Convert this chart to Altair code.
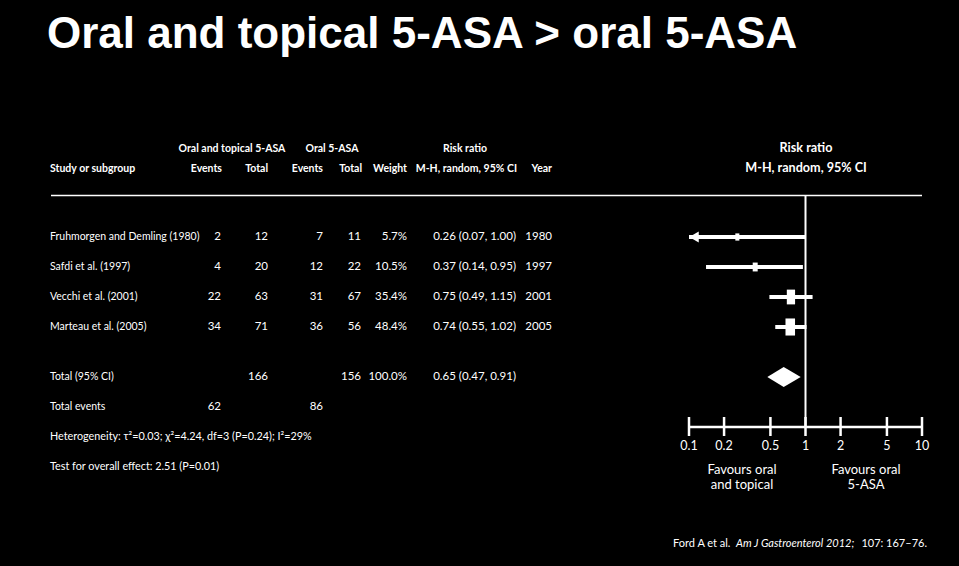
import altair as alt
import pandas as pd

# ---------------- data ----------------
studies = ["Fruhmorgen and Demling (1980)", "Safdi et al. (1997)",
           "Vecchi et al. (2001)", "Marteau et al. (2005)"]
ev_comb = [2, 4, 22, 34]
tot_comb = [12, 20, 63, 71]
ev_oral = [7, 12, 31, 36]
tot_oral = [11, 22, 67, 56]
weights = [5.7, 10.5, 35.4, 48.4]
rr = [0.26, 0.37, 0.75, 0.74]
rr_lo = [0.07, 0.14, 0.49, 0.55]
rr_hi = [1.00, 0.95, 1.15, 1.02]
years = [1980, 1997, 2001, 2005]

total_label = "Total (95% CI)"
total_n = [166, 156]
total_events = [62, 86]
total_weight = 100.0
pooled = [0.65, 0.47, 0.91]
heterogeneity = "Heterogeneity: τ²=0.03; χ²=4.24, df=3 (P=0.24); I²=29%"
overall = "Test for overall effect: 2.51 (P=0.01)"

axis_ticks = [0.1, 0.2, 0.5, 1, 2, 5, 10]
axis_tick_labels = ["0.1", "0.2", "0.5", "1", "2", "5", "10"]
favours_left = ["Favours oral", "and topical"]
favours_right = ["Favours oral", "5-ASA"]

title_text = "Oral and topical 5-ASA > oral 5-ASA"
header_top = ["Oral and topical 5-ASA", "Oral 5-ASA", "Risk ratio"]
header_bottom = ["Study or subgroup", "Events", "Total", "Events", "Total", "Weight",
                 "M-H, random, 95% CI", "Year"]
forest_header = ["Risk ratio", "M-H, random, 95% CI"]
citation = ["Ford A et al.", "Am J Gastroenterol 2012;", "107: 167–76."]

# ---------------- layout helpers ----------------
FONT = "Lato"
FS_NUM = 11.5
FS_TXT = 10.5
WHITE = "#ffffff"
GAP = 2.0 / 3.0  # blank space between the studies and the totals (in rows)

rows = []
for i, s in enumerate(studies):
    rows.append(dict(row=i, name=s, c1=str(ev_comb[i]), c2=str(tot_comb[i]),
                     c3=str(ev_oral[i]), c4=str(tot_oral[i]), w=f"{weights[i]:.1f}%",
                     rrt=f"{rr[i]:.2f} ({rr_lo[i]:.2f}, {rr_hi[i]:.2f})", yr=str(years[i])))
base = len(studies) + GAP
rows.append(dict(row=base, name=total_label, c1="", c2=str(total_n[0]), c3="", c4=str(total_n[1]),
                 w=f"{total_weight:.1f}%", rrt=f"{pooled[0]:.2f} ({pooled[1]:.2f}, {pooled[2]:.2f})", yr=""))
rows.append(dict(row=base + 1, name="Total events", c1=str(total_events[0]), c2="",
                 c3=str(total_events[1]), c4="", w="", rrt="", yr=""))
table = pd.DataFrame(rows)
notes = pd.DataFrame(dict(row=[base + 2, base + 3], t=[heterogeneity, overall]))

forest = pd.DataFrame(dict(row=list(range(len(studies))), est=rr,
                           lo=[max(v, 0.1) for v in rr_lo], hi=rr_hi, w=weights,
                           clipped=[v < 0.1 for v in rr_lo]))
HALF = 1.0 / 3.0
diamond = pd.DataFrame(dict(x=[pooled[1], pooled[0], pooled[2]],
                            y1=[base, base - HALF, base], y2=[base, base + HALF, base]))
ticks = pd.DataFrame(dict(v=axis_ticks, lab=axis_tick_labels))

xscale = alt.Scale(type="log", domain=[0.1, 10], range=[689, 922], nice=False)
yscale = alt.Scale(domain=[0, 1], range=[237, 267], nice=False, zero=False)


def X(f):
    return alt.X(f, type="quantitative", scale=xscale, axis=None)


def Y(f):
    return alt.Y(f, type="quantitative", scale=yscale, axis=None)


def label(t, px, py, size, align="left", weight="normal", style="normal", font=FONT):
    return alt.Chart(pd.DataFrame({"t": [t]})).mark_text(
        font=font, fontWeight=weight, fontStyle=style, fontSize=size, color=WHITE,
        align=align, baseline="middle").encode(x=alt.value(px), y=alt.value(py), text="t:N")


layers = []

# title
layers.append(alt.Chart(pd.DataFrame({"t": [title_text]})).mark_text(
    font="Liberation Sans", fontWeight="bold", fontSize=44, color=WHITE,
    align="left", baseline="alphabetic").encode(
    x=alt.value(47), y=alt.value(48), text="t:N"))

# headers
top_pos = [(232, "center"), (332, "center"), (465, "center")]
for t, (px, al) in zip(header_top, top_pos):
    layers.append(label(t, px, 149, FS_TXT, al, "bold"))
bot_pos = [(50, "left"), (222, "right"), (268, "right"), (323, "right"), (362, "right"),
           (407, "right"), (517, "right"), (552, "right")]
for t, (px, al) in zip(header_bottom, bot_pos):
    layers.append(label(t, px, 169, FS_TXT, al, "bold"))
for j, t in enumerate(forest_header):
    layers.append(label(t, 806, 148 + 20 * j, 12.6, "center", "bold"))

# header rule
layers.append(alt.Chart(pd.DataFrame({"a": [0]})).mark_rule(color=WHITE, strokeWidth=1.6).encode(
    x=alt.value(51), x2=alt.value(922), y=alt.value(195.5)))

# table columns
cols = [("name", 50, "left", FS_TXT), ("c1", 221, "right", FS_NUM), ("c2", 268, "right", FS_NUM),
        ("c3", 323, "right", FS_NUM), ("c4", 361, "right", FS_NUM), ("w", 407, "right", FS_NUM),
        ("rrt", 516, "right", FS_NUM), ("yr", 552, "right", FS_NUM)]
for f, px, al, fs in cols:
    layers.append(alt.Chart(table).mark_text(
        font=FONT, fontSize=fs, color=WHITE, align=al, baseline="middle").encode(
        x=alt.value(px), y=Y("row"), text=f"{f}:N"))

# heterogeneity / overall effect
layers.append(alt.Chart(notes).mark_text(
    font=FONT, fontSize=10.8, color=WHITE, align="left", baseline="middle").encode(
    x=alt.value(50), y=Y("row"), text="t:N"))

# null line
layers.append(alt.Chart(pd.DataFrame({"a": [0]})).mark_rule(color=WHITE, strokeWidth=2).encode(
    x=alt.datum(1, scale=xscale, axis=None), y=alt.value(195), y2=alt.value(427)))

# CIs
layers.append(alt.Chart(forest).mark_rule(color=WHITE, strokeWidth=4).encode(
    x=X("lo"), x2="hi", y=Y("row")))
# arrows for clipped CI
layers.append(alt.Chart(forest).transform_filter("datum.clipped").mark_point(
    shape="triangle-left", filled=True, color=WHITE, opacity=1, size=120, xOffset=5).encode(
    x=X("lo"), y=Y("row")))
# study markers
layers.append(alt.Chart(forest).mark_point(
    shape="M-0.56,-1L0.56,-1L0.56,1L-0.56,1Z", filled=True, color=WHITE, opacity=1).encode(
    x=X("est"), y=Y("row"),
    size=alt.Size("w:Q", scale=alt.Scale(domain=[0, 50], range=[20, 300]), legend=None)))
# pooled diamond
layers.append(alt.Chart(diamond).mark_area(color=WHITE, opacity=1, orient="vertical").encode(
    x=X("x"), y=Y("y1"), y2="y2"))

# axis
layers.append(alt.Chart(pd.DataFrame({"a": [0]})).mark_rule(color=WHITE, strokeWidth=2.5).encode(
    x=alt.datum(0.1, scale=xscale, axis=None), x2=alt.datum(10), y=alt.value(427)))
layers.append(alt.Chart(ticks).mark_rule(color=WHITE, strokeWidth=2.5).encode(
    x=X("v"), y=alt.value(417), y2=alt.value(436)))
layers.append(alt.Chart(ticks).mark_text(
    font=FONT, fontSize=12.5, color=WHITE, align="center", baseline="middle").encode(
    x=X("v"), y=alt.value(446), text="lab:N"))
for j, t in enumerate(favours_left):
    layers.append(label(t, 742, 470 + 15 * j, 13, "center"))
for j, t in enumerate(favours_right):
    layers.append(label(t, 866, 470 + 15 * j, 13, "center"))

# citation
layers.append(label(citation[0], 673, 544, 11, "left"))
layers.append(label(citation[1], 736, 544, 11, "left", style="italic"))
layers.append(label(citation[2], 927, 544, 11, "right"))

chart = alt.layer(*layers).properties(
    width=959, height=566, background="#000000",
    autosize=alt.AutoSizeParams(type="none"), padding=0,
).configure_view(stroke=None)

chart.save("out.html", embed_options={"renderer": "svg", "actions": False})
